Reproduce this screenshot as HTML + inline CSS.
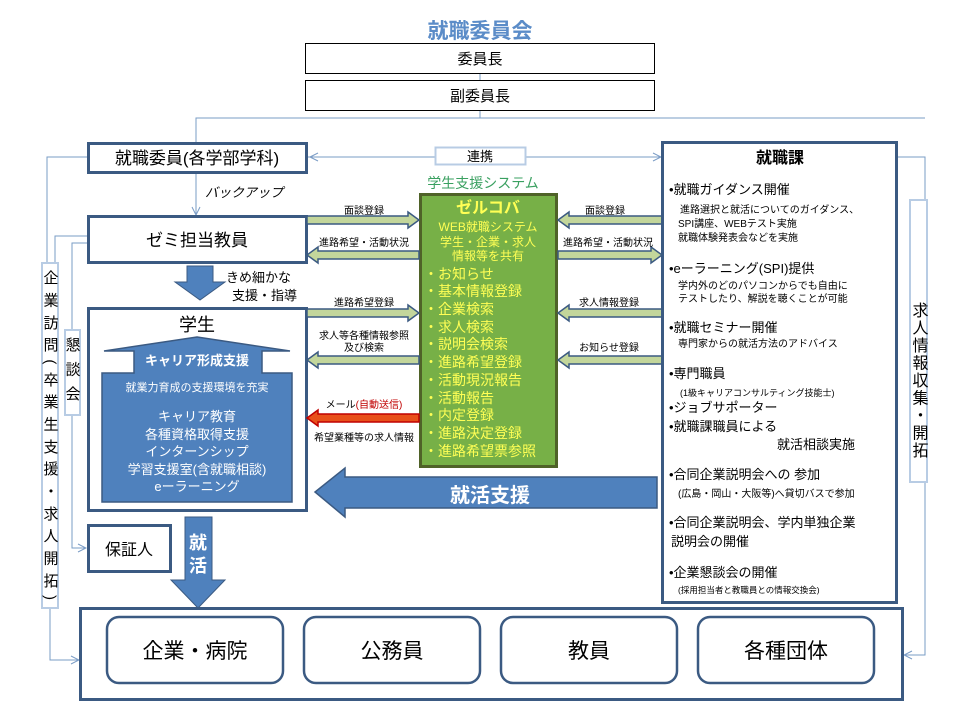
<!DOCTYPE html>
<html><head><meta charset="utf-8"><style>
html,body{margin:0;padding:0;background:#fff}
svg{display:block}
text{font-family:"Liberation Sans","Noto Sans CJK JP",sans-serif}
</style></head><body>
<svg width="960" height="720" viewBox="0 0 960 720" xmlns="http://www.w3.org/2000/svg">
<defs>
<marker id="oa" markerWidth="10" markerHeight="10" refX="9" refY="5" orient="auto" markerUnits="userSpaceOnUse"><path d="M1,1 L9,5 L1,9" fill="none" stroke="#7a9cc6" stroke-width="1"/></marker>
</defs>
<!-- title -->
<text x="480" y="38" text-anchor="middle" font-size="21" font-weight="bold" fill="#5b8cc8">就職委員会</text>
<rect x="305.5" y="43.5" width="349" height="30" fill="#fff" stroke="#000" stroke-width="1"/>
<text x="480" y="64" text-anchor="middle" font-size="15">委員長</text>
<line x1="480" y1="74" x2="480" y2="80" stroke="#7a9cc6"/>
<rect x="305.5" y="80.5" width="349" height="30" fill="#fff" stroke="#000" stroke-width="1"/>
<text x="480" y="101" text-anchor="middle" font-size="15">副委員長</text>
<!-- connector lines -->
<g fill="none" stroke="#7a9cc6" stroke-width="1">
<line x1="480" y1="111" x2="480" y2="118"/>
<polyline points="196,143 196,118 925,118"/>
<polyline points="897,157 925,157 925,200"/>
<polyline points="925,482 925,655 904,655" marker-end="url(#oa)"/>
<polyline points="87,157 47,157 47,263"/>
<polyline points="50,608 50,660 79,660" marker-end="url(#oa)"/>
<polyline points="87,243 72,243 72,330"/>
<polyline points="87,236 55,236 55,263"/>
<polyline points="72,415 72,548 86,548" marker-end="url(#oa)"/>
<line x1="308" y1="157" x2="435" y2="157" marker-start="url(#oa)"/>
<line x1="525" y1="157" x2="661" y2="157" marker-end="url(#oa)"/>
<line x1="196" y1="173" x2="196" y2="215" marker-end="url(#oa)"/>
</g>
<path d="M310,157 l8,-4 M310,157 l8,4" stroke="#7a9cc6" fill="none"/>
<!-- 就職委員 -->
<rect x="88.5" y="143.5" width="218" height="29" fill="#fff" stroke="#3b5a82" stroke-width="3"/>
<text x="197" y="164" text-anchor="middle" font-size="17">就職委員(各学部学科)</text>
<rect x="435.5" y="147.5" width="90" height="17" fill="#fff" stroke="#b8cce4" stroke-width="2"/>
<text x="480" y="161" text-anchor="middle" font-size="13">連携</text>
<text x="205" y="197" font-size="13" font-style="italic">バックアップ</text>
<!-- ゼミ -->
<rect x="88.5" y="216.5" width="218" height="46" fill="#fff" stroke="#3b5a82" stroke-width="3"/>
<text x="197" y="246" text-anchor="middle" font-size="17">ゼミ担当教員</text>
<!-- down arrow -->
<polygon points="187,266 213,266 213,282 225,282 200,300 175,282 187,282" fill="#4f81bd" stroke="#3b5a82"/>
<text x="226" y="282" font-size="13">きめ細かな</text>
<text x="232" y="300" font-size="13">支援・指導</text>
<!-- 学生 -->
<rect x="88.5" y="308.5" width="218" height="202" fill="#fff" stroke="#3b5a82" stroke-width="3"/>
<text x="197" y="331" text-anchor="middle" font-size="18">学生</text>
<polygon points="197,337 290,351 262,351 262,373 292,373 292,502 102,502 102,373 134,373 134,351 104,351" fill="#4f81bd" stroke="#3b5a82" stroke-width="1.5"/>
<text x="197" y="365" text-anchor="middle" font-size="13" font-weight="bold" fill="#fff">キャリア形成支援</text>
<text x="197" y="391" text-anchor="middle" font-size="11" fill="#fff">就業力育成の支援環境を充実</text>
<g font-size="13" fill="#fff" text-anchor="middle">
<text x="197" y="421">キャリア教育</text>
<text x="197" y="439">各種資格取得支援</text>
<text x="197" y="456">インターンシップ</text>
<text x="197" y="474">学習支援室(含就職相談)</text>
<text x="197" y="491">eーラーニング</text>
</g>
<!-- 保証人 -->
<rect x="88.5" y="525.5" width="82" height="46" fill="#fff" stroke="#3b5a82" stroke-width="3"/>
<text x="129" y="555" text-anchor="middle" font-size="16">保証人</text>
<!-- 就活 down arrow -->
<polygon points="185,517 212,517 212,580 225,580 198,608 171,580 185,580" fill="#4f81bd" stroke="#3b5a82"/>
<text x="198" y="549" text-anchor="middle" font-size="18" font-weight="bold" fill="#fff">就</text>
<text x="198" y="572" text-anchor="middle" font-size="18" font-weight="bold" fill="#fff">活</text>
<!-- 就活支援 arrow -->
<polygon points="657,477 345,477 345,468 315,492 345,517 345,508 657,508" fill="#4f81bd" stroke="#3b5a82" stroke-width="1.5"/>
<text x="490" y="502" text-anchor="middle" font-size="20" font-weight="bold" fill="#fff">就活支援</text>
<!-- green system -->
<text x="483" y="188" text-anchor="middle" font-size="14" fill="#3aa060">学生支援システム</text>
<rect x="420.5" y="194.5" width="136" height="272" fill="#77b047" stroke="#4f6228" stroke-width="3"/>
<g fill="#ffff55" text-anchor="middle">
<text x="488" y="213" font-size="16" font-weight="bold">ゼルコバ</text>
<text x="488" y="231" font-size="12">WEB就職システム</text>
<text x="488" y="246" font-size="12">学生・企業・求人</text>
<text x="488" y="260" font-size="12">情報等を共有</text>
</g>
<g fill="#ffff55" font-size="14">
<text x="424" y="279">・お知らせ</text>
<text x="424" y="296">・基本情報登録</text>
<text x="424" y="314">・企業検索</text>
<text x="424" y="332">・求人検索</text>
<text x="424" y="349">・説明会検索</text>
<text x="424" y="367">・進路希望登録</text>
<text x="424" y="385">・活動現況報告</text>
<text x="424" y="403">・活動報告</text>
<text x="424" y="420">・内定登録</text>
<text x="424" y="438">・進路決定登録</text>
<text x="424" y="456">・進路希望票参照</text>
</g>
<!-- double arrows -->
<g fill="#c3d69b" stroke="#3b5a82" stroke-width="1.5">
<polygon points="307,216 408,216 408,212 419,220 408,228 408,224 307,224"/>
<polygon points="419,251 318,251 318,247 307,255 318,263 318,259 419,259"/>
<polygon points="307,309 408,309 408,305 419,313 408,321 408,317 307,317"/>
<polygon points="419,356 318,356 318,352 307,360 318,368 318,364 419,364"/>
<polygon points="662,216 569,216 569,212 558,220 569,228 569,224 662,224"/>
<polygon points="558,251 651,251 651,247 662,255 651,263 651,259 558,259"/>
<polygon points="662,309 569,309 569,305 558,313 569,321 569,317 662,317"/>
<polygon points="662,356 569,356 569,352 558,360 569,368 569,364 662,364"/>
</g>
<polygon points="419,414 318,414 318,410 307,418 318,426 318,422 419,422" fill="#e8501a" stroke="#c00000" stroke-width="1.5"/>
<g font-size="10" text-anchor="middle">
<text x="364" y="214">面談登録</text>
<text x="364" y="246">進路希望・活動状況</text>
<text x="364" y="306">進路希望登録</text>
<text x="364" y="339">求人等各種情報参照</text>
<text x="364" y="351">及び検索</text>
<text x="364" y="408">メール<tspan fill="#c00000">(自動送信)</tspan></text>
<text x="364" y="441">希望業種等の求人情報</text>
<text x="605" y="214">面談登録</text>
<text x="608" y="246">進路希望・活動状況</text>
<text x="609" y="306">求人情報登録</text>
<text x="609" y="351">お知らせ登録</text>
</g>
<!-- 就職課 -->
<rect x="662.5" y="142.5" width="234" height="460" fill="#fff" stroke="#3b5a82" stroke-width="3"/>
<text x="780" y="163" text-anchor="middle" font-size="16" font-weight="bold">就職課</text>
<g font-size="13">
<text x="669" y="194">•就職ガイダンス開催</text>
<text x="669" y="273">•eーラーニング(SPI)提供</text>
<text x="669" y="332">•就職セミナー開催</text>
<text x="669" y="378">•専門職員</text>
<text x="669" y="412">•ジョブサポーター</text>
<text x="669" y="431">•就職課職員による</text>
<text x="777" y="449">就活相談実施</text>
<text x="669" y="479">•合同企業説明会への 参加</text>
<text x="669" y="527">•合同企業説明会、学内単独企業</text>
<text x="671" y="546">説明会の開催</text>
<text x="669" y="577">•企業懇談会の開催</text>
</g>
<g font-size="10">
<text x="680" y="213">進路選択と就活についてのガイダンス、</text>
<text x="678" y="227">SPI講座、WEBテスト実施</text>
<text x="678" y="241">就職体験発表会などを実施</text>
<text x="678" y="289">学内外のどのパソコンからでも自由に</text>
<text x="678" y="302">テストしたり、解説を聴くことが可能</text>
<text x="678" y="347">専門家からの就活方法のアドバイス</text>
<text x="680" y="396" font-size="9">(1級キャリアコンサルティング技能士)</text>
<text x="678" y="497">(広島・岡山・大阪等)へ貸切バスで参加</text>
<text x="678" y="593" font-size="8.5">(採用担当者と教職員との情報交換会)</text>
</g>
<!-- vertical labels -->
<rect x="42" y="263" width="16" height="345" fill="#fff" stroke="#b8cce4" stroke-width="2"/>
<text x="50" y="270" font-size="15" style="writing-mode:vertical-rl" textLength="330" lengthAdjust="spacing">企業訪問(卒業生支援・求人開拓)</text>
<rect x="65" y="330" width="15" height="85" fill="#fff" stroke="#b8cce4" stroke-width="2"/>
<text x="72" y="337" font-size="15" style="writing-mode:vertical-rl" textLength="64" lengthAdjust="spacing">懇談会</text>
<rect x="910" y="200" width="17" height="282" fill="#fff" stroke="#b8cce4" stroke-width="2"/>
<text x="918" y="302" font-size="16" style="writing-mode:vertical-rl" textLength="156" lengthAdjust="spacing">求人情報収集・開拓</text>
<!-- bottom -->
<rect x="80.5" y="608.5" width="822" height="91" fill="#fff" stroke="#3b5a82" stroke-width="3"/>
<g fill="#fff" stroke="#3b5a82" stroke-width="2.5">
<rect x="107" y="617" width="176" height="66" rx="12"/>
<rect x="304" y="617" width="176" height="66" rx="12"/>
<rect x="501" y="617" width="176" height="66" rx="12"/>
<rect x="698" y="617" width="176" height="66" rx="12"/>
</g>
<g font-size="21" text-anchor="middle">
<text x="195" y="658">企業・病院</text>
<text x="392" y="658">公務員</text>
<text x="589" y="658">教員</text>
<text x="786" y="658">各種団体</text>
</g>
</svg>
</body></html>
